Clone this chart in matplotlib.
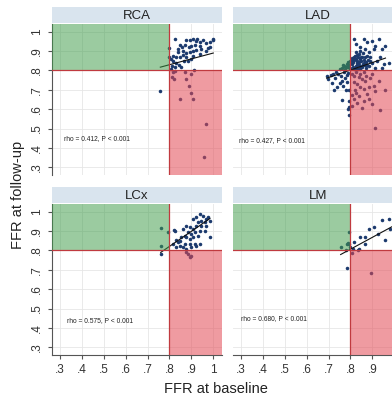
import matplotlib
matplotlib.use("Agg")
import matplotlib.pyplot as plt
from matplotlib.patches import Rectangle

plt.rcParams['font.family'] = ['Liberation Sans', 'DejaVu Sans']

# panel names and stats
panels = ['RCA', 'LAD', 'LCx', 'LM']
stats = ['rho = 0.412, P < 0.001', 'rho = 0.427, P < 0.001',
         'rho = 0.575, P < 0.001', 'rho = 0.680, P < 0.001']
stat_pos = [(0.32, 0.44), (0.29, 0.43), (0.33, 0.43), (0.30, 0.44)]

ticks = [0.3, 0.4, 0.5, 0.6, 0.7, 0.8, 0.9, 1.0]
tick_labels = ['.3', '.4', '.5', '.6', '.7', '.8', '.9', '1']
cutoff = 0.8

# RCA
rca_x = [0.826, 0.849, 0.838, 0.859, 0.869, 0.874, 0.895, 0.908, 0.920, 0.926,
         0.939, 0.954, 0.969, 0.985, 0.997, 1.000, 0.946, 0.923, 0.908, 0.892,
         0.877, 0.862, 0.846, 0.828, 0.815, 0.818, 0.831, 0.823, 0.843, 0.854,
         0.812, 0.805, 0.808, 0.877, 0.908, 0.939, 0.966, 0.977, 0.889, 0.900,
         0.862, 0.838, 0.797, 0.800, 0.939, 0.916, 0.985, 0.885, 0.900, 0.865,
         0.818, 0.820, 0.869, 0.897, 0.912, 0.877, 0.889, 0.897, 0.849, 0.908,
         0.969, 0.959, 0.812, 0.826, 0.758]
rca_y = [0.962, 0.933, 0.910, 0.919, 0.933, 0.957, 0.957, 0.962, 0.950, 0.962,
         0.945, 0.957, 0.940, 0.945, 0.957, 0.962, 0.910, 0.905, 0.902, 0.893,
         0.888, 0.881, 0.867, 0.867, 0.876, 0.847, 0.836, 0.819, 0.829, 0.819,
         0.824, 0.807, 0.859, 0.867, 0.876, 0.885, 0.902, 0.916, 0.919, 0.928,
         0.902, 0.893, 0.916, 0.867, 0.928, 0.933, 0.923, 0.850, 0.859, 0.850,
         0.790, 0.755, 0.790, 0.784, 0.802, 0.755, 0.721, 0.683, 0.651, 0.651,
         0.522, 0.353, 0.764, 0.798, 0.695]

# LAD
lad_x = [0.815, 0.861, 0.823, 0.876, 0.898, 0.929, 0.914, 0.906, 0.883, 0.868,
         0.845, 0.944, 0.959, 0.936, 0.974, 0.951, 0.921, 0.891, 0.876, 0.853,
         0.838, 0.823, 0.815, 0.808, 0.830, 0.861, 0.898, 0.914, 0.944, 0.883,
         0.845, 0.823, 0.808,
         0.800, 0.805, 0.812, 0.818, 0.825, 0.832, 0.838, 0.842, 0.850, 0.855,
         0.860, 0.865, 0.870, 0.848, 0.835, 0.820, 0.810, 0.815, 0.825, 0.835,
         0.845, 0.852, 0.800, 0.795, 0.790, 0.798, 0.828, 0.840, 0.858, 0.872,
         0.880, 0.888, 0.805, 0.830, 0.842, 0.855, 0.868, 0.876,
         0.760, 0.772, 0.780, 0.785, 0.775, 0.790, 0.765, 0.752,
         0.691, 0.698, 0.709, 0.717, 0.724, 0.740, 0.762, 0.792, 0.730, 0.745,
         0.755, 0.760, 0.770, 0.775, 0.782, 0.788, 0.750, 0.768, 0.785, 0.792,
         0.793, 0.793, 0.790, 0.735, 0.720, 0.778,
         0.808, 0.815, 0.823, 0.838, 0.853, 0.868, 0.815, 0.830, 0.845, 0.861,
         0.883, 0.906, 0.914, 0.823, 0.838, 0.815, 0.830, 0.861, 0.883, 0.898,
         0.959, 0.936, 0.914, 0.808, 0.805, 0.876, 0.929, 0.853, 0.820, 0.845,
         0.870, 0.890, 0.900, 0.860]
lad_y = [0.962, 0.962, 0.936, 0.945, 0.954, 0.962, 0.928, 0.910, 0.893, 0.910,
         0.919, 0.910, 0.928, 0.867, 0.841, 0.833, 0.850, 0.867, 0.876, 0.867,
         0.885, 0.893, 0.867, 0.853, 0.850, 0.841, 0.841, 0.815, 0.815, 0.824,
         0.824, 0.824, 0.833,
         0.850, 0.840, 0.845, 0.855, 0.860, 0.838, 0.845, 0.858, 0.850, 0.835,
         0.855, 0.830, 0.845, 0.872, 0.870, 0.875, 0.820, 0.810, 0.815, 0.805,
         0.810, 0.818, 0.815, 0.830, 0.820, 0.805, 0.830, 0.830, 0.826, 0.815,
         0.855, 0.848, 0.862, 0.880, 0.900, 0.890, 0.870, 0.830,
         0.812, 0.825, 0.818, 0.835, 0.805, 0.845, 0.828, 0.808,
         0.771, 0.757, 0.776, 0.733, 0.698, 0.715, 0.646, 0.569, 0.760, 0.780,
         0.770, 0.745, 0.790, 0.760, 0.775, 0.785, 0.735, 0.720, 0.740, 0.700,
         0.640, 0.610, 0.600, 0.790, 0.782, 0.700,
         0.780, 0.772, 0.790, 0.764, 0.755, 0.747, 0.738, 0.729, 0.712, 0.703,
         0.712, 0.720, 0.694, 0.686, 0.669, 0.651, 0.634, 0.643, 0.651, 0.625,
         0.698, 0.594, 0.503, 0.617, 0.675, 0.677, 0.746, 0.608, 0.700, 0.780,
         0.770, 0.760, 0.780, 0.790]

# LCx
lcx_x = [0.939, 0.954, 0.969, 0.946, 0.977, 0.962, 0.931, 0.923, 0.946, 0.969,
         0.908, 0.892, 0.877, 0.862, 0.885, 0.900, 0.916, 0.931, 0.939, 0.962,
         0.908, 0.892, 0.877, 0.869, 0.854, 0.846, 0.838, 0.831, 0.823, 0.869,
         0.892, 0.916, 0.923, 0.939, 0.900, 0.877, 0.862, 0.846, 0.828, 0.815,
         0.908, 0.923, 0.985, 0.985,
         0.885, 0.892, 0.877, 0.900,
         0.762, 0.762, 0.760, 0.795, 0.819]
lcx_y = [0.988, 0.980, 0.963, 0.954, 0.971, 0.946, 0.946, 0.928, 0.928, 0.928,
         0.911, 0.920, 0.928, 0.911, 0.894, 0.885, 0.894, 0.877, 0.903, 0.903,
         0.868, 0.860, 0.868, 0.877, 0.868, 0.851, 0.842, 0.854, 0.903, 0.834,
         0.834, 0.834, 0.825, 0.834, 0.817, 0.808, 0.817, 0.825, 0.817, 0.834,
         0.963, 0.971, 0.954, 0.868,
         0.782, 0.765, 0.791, 0.769,
         0.916, 0.824, 0.782, 0.896, 0.906]

# LM
lm_x = [0.792, 0.792, 0.785, 0.755, 0.805, 0.815, 0.835, 0.838, 0.845, 0.868,
        0.868, 0.883, 0.906, 0.926, 0.944, 0.956, 0.974, 0.982, 0.785, 0.895,
        0.780, 0.812, 0.800, 0.790]
lm_y = [0.894, 0.834, 0.834, 0.817, 0.786, 0.842, 0.800, 0.805, 0.872, 0.872,
        0.834, 0.911, 0.923, 0.885, 0.958, 0.854, 0.963, 0.910, 0.708, 0.683,
        0.800, 0.810, 0.820, 0.840]

# fitted lines (endpoints)
fit_x = [[0.758, 1.000], [0.691, 0.960], [0.760, 0.985], [0.755, 0.990]]
fit_y = [[0.817, 0.890], [0.760, 0.864], [0.790, 0.965], [0.779, 0.923]]

xs = [rca_x, lad_x, lcx_x, lm_x]
ys = [rca_y, lad_y, lcx_y, lm_y]

W, H = 392, 397
fig = plt.figure(figsize=(W / 100, H / 100), dpi=100)
lims = (0.263, 1.04)

col_left = [52, 233]
row_top = [24, 204]
pw, ph = 170, 151

for i, name in enumerate(panels):
    r, c = divmod(i, 2)
    x0 = col_left[c] / W
    y0 = 1 - (row_top[r] + ph) / H
    ax = fig.add_axes([x0, y0, pw / W, ph / H])
    ax.set_xlim(lims)
    ax.set_ylim(0.26, 1.04)

    ax.scatter(xs[i], ys[i], s=6.5, color='#1c3a6e', linewidths=0, zorder=2)
    ax.plot(fit_x[i], fit_y[i], color='#111111', lw=0.8, zorder=3)

    ax.add_patch(Rectangle((lims[0], cutoff), cutoff - lims[0], 1.04 - cutoff,
                           facecolor='#3f9c4a', alpha=0.52, lw=0, zorder=4))
    ax.add_patch(Rectangle((cutoff, 0.26), lims[1] - cutoff, cutoff - 0.26,
                           facecolor='#e34a55', alpha=0.55, lw=0, zorder=4))
    ax.axhline(cutoff, color='#c03a3f', lw=0.9, zorder=5)
    ax.axvline(cutoff, color='#c03a3f', lw=0.9, zorder=5)

    ax.text(stat_pos[i][0], stat_pos[i][1], stats[i], fontsize=4.8,
            color='#222222', zorder=6)

    ax.set_xticks(ticks)
    ax.set_yticks(ticks)
    ax.grid(True, color='#e6e6e6', lw=0.6, zorder=0)
    ax.set_axisbelow(True)
    for s in ['top', 'right']:
        ax.spines[s].set_visible(False)
    ax.spines['left'].set_color('#555555')
    ax.spines['bottom'].set_color('#555555')
    ax.tick_params(colors='#555555', labelcolor='#333333', length=3,
                   width=0.8, labelsize=8.5)

    if c == 0:
        ax.set_yticklabels(tick_labels, rotation=90, va='center')
    else:
        ax.spines['left'].set_visible(False)
        ax.tick_params(axis='y', left=False, labelleft=False)
    if r == 1:
        ax.set_xticklabels(tick_labels)
    else:
        ax.spines['bottom'].set_visible(False)
        ax.tick_params(axis='x', bottom=False, labelbottom=False)

    # header strip
    hy = 1 - (row_top[r] - 1) / H
    hh = 16 / H
    hax = fig.add_axes([x0, hy, pw / W, hh])
    hax.set_facecolor('#d9e4ee')
    hax.set_xticks([])
    hax.set_yticks([])
    for s in hax.spines.values():
        s.set_visible(False)
    hax.text(0.5, 0.45, name, ha='center', va='center', fontsize=9.5,
             color='#222222', transform=hax.transAxes)

fig.text(0.551, 0.02, 'FFR at baseline', ha='center', va='center',
         fontsize=10.5, color='#222222')
fig.text(0.045, 0.51, 'FFR at follow-up', ha='center', va='center',
         rotation=90, fontsize=10.5, color='#222222')

fig.savefig('out.png', dpi=100)
